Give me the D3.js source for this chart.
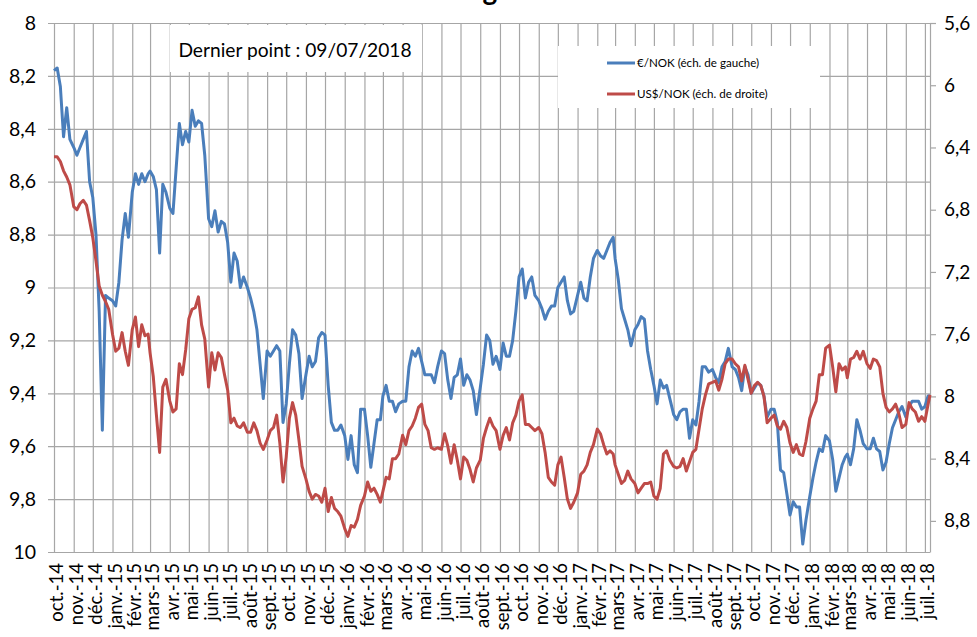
<!DOCTYPE html>
<html>
<head>
<meta charset="utf-8">
<script src="https://cdnjs.cloudflare.com/ajax/libs/d3/7.8.5/d3.min.js"></script>
<style>
  body { margin: 0; background: #fff; }
  text { font-family: Lato, "Liberation Sans", sans-serif; fill: #000; }
</style>
</head>
<body>
<div id="chart"></div>
<script>
// Month labels on the x axis (one gridline per month)
const monthLabels = ["oct.-14", "nov.-14", "déc.-14",
  "janv.-15", "févr.-15", "mars-15", "avr.-15", "mai-15", "juin-15", "juil.-15", "août-15", "sept.-15", "oct.-15", "nov.-15", "déc.-15",
  "janv.-16", "févr.-16", "mars-16", "avr.-16", "mai-16", "juin-16", "juil.-16", "août-16", "sept.-16", "oct.-16", "nov.-16", "déc.-16",
  "janv.-17", "févr.-17", "mars-17", "avr.-17", "mai-17", "juin-17", "juil.-17", "août-17", "sept.-17", "oct.-17", "nov.-17", "déc.-17",
  "janv.-18", "févr.-18", "mars-18", "avr.-18", "mai-18", "juin-18", "juil.-18"];

// days of the month where values were read (last month stops at 09/07/2018)
const sampleDays = [1, 6, 11, 16, 21, 26];
const lastMonthDays = [1, 6, 9];

// €/NOK, left axis (one row per month)
const eurNok = [
  [8.18, 8.17, 8.24, 8.43, 8.32, 8.44],
  [8.47, 8.50, 8.47, 8.44, 8.41, 8.60],
  [8.66, 8.80, 9.09, 9.54, 9.03, 9.04],
  [9.05, 9.07, 8.98, 8.82, 8.72, 8.81],
  [8.64, 8.57, 8.61, 8.57, 8.60, 8.57],
  [8.56, 8.58, 8.63, 8.87, 8.61, 8.64],
  [8.70, 8.72, 8.55, 8.38, 8.46, 8.41],
  [8.45, 8.33, 8.39, 8.37, 8.38, 8.50],
  [8.74, 8.77, 8.71, 8.79, 8.75, 8.76],
  [8.83, 8.98, 8.87, 8.90, 9.00, 8.96],
  [9.00, 9.04, 9.09, 9.16, 9.29, 9.42],
  [9.24, 9.26, 9.24, 9.22, 9.24, 9.51],
  [9.44, 9.29, 9.16, 9.18, 9.25, 9.42],
  [9.33, 9.26, 9.30, 9.28, 9.19, 9.17],
  [9.18, 9.37, 9.51, 9.54, 9.54, 9.52],
  [9.56, 9.65, 9.56, 9.67, 9.70, 9.46],
  [9.46, 9.56, 9.68, 9.59, 9.50, 9.50],
  [9.41, 9.37, 9.43, 9.43, 9.47, 9.44],
  [9.43, 9.43, 9.30, 9.24, 9.26, 9.23],
  [9.28, 9.33, 9.33, 9.33, 9.36, 9.30],
  [9.24, 9.25, 9.35, 9.42, 9.34, 9.33],
  [9.27, 9.37, 9.33, 9.35, 9.39, 9.48],
  [9.38, 9.29, 9.18, 9.20, 9.29, 9.26],
  [9.31, 9.21, 9.26, 9.26, 9.20, 9.09],
  [8.96, 8.93, 9.04, 8.98, 8.96, 9.03],
  [9.05, 9.08, 9.12, 9.09, 9.07, 9.07],
  [9.00, 8.98, 8.96, 9.05, 9.10, 9.09],
  [9.03, 8.98, 9.04, 9.05, 8.96, 8.89],
  [8.86, 8.88, 8.89, 8.86, 8.83, 8.81],
  [8.89, 8.97, 9.08, 9.12, 9.16, 9.22],
  [9.16, 9.14, 9.11, 9.12, 9.24, 9.31],
  [9.37, 9.44, 9.35, 9.38, 9.37, 9.42],
  [9.48, 9.50, 9.47, 9.46, 9.46, 9.57],
  [9.50, 9.52, 9.43, 9.30, 9.30, 9.32],
  [9.31, 9.34, 9.36, 9.30, 9.28, 9.23],
  [9.30, 9.31, 9.34, 9.39, 9.30, 9.33],
  [9.40, 9.38, 9.36, 9.37, 9.41, 9.49],
  [9.46, 9.46, 9.51, 9.69, 9.70, 9.78],
  [9.86, 9.81, 9.83, 9.83, 9.97, 9.88],
  [9.79, 9.72, 9.66, 9.61, 9.62, 9.56],
  [9.58, 9.65, 9.77, 9.72, 9.67, 9.64],
  [9.63, 9.67, 9.61, 9.50, 9.54, 9.59],
  [9.61, 9.61, 9.57, 9.61, 9.62, 9.69],
  [9.66, 9.59, 9.53, 9.50, 9.47, 9.45],
  [9.49, 9.45, 9.43, 9.43, 9.43, 9.46],
  [9.45, 9.41, 9.41]
];

// US$/NOK, right axis
const usdNok = [
  [6.46, 6.46, 6.49, 6.55, 6.59, 6.64],
  [6.78, 6.80, 6.76, 6.74, 6.77, 6.87],
  [6.98, 7.13, 7.29, 7.35, 7.39, 7.44],
  [7.60, 7.71, 7.69, 7.59, 7.71, 7.80],
  [7.57, 7.49, 7.68, 7.54, 7.61, 7.60],
  [7.72, 7.87, 8.12, 8.36, 7.94, 7.89],
  [8.03, 8.10, 8.08, 7.79, 7.86, 7.70],
  [7.50, 7.44, 7.43, 7.36, 7.54, 7.63],
  [7.94, 7.72, 7.83, 7.72, 7.75, 7.86],
  [7.96, 8.17, 8.14, 8.19, 8.20, 8.17],
  [8.23, 8.23, 8.17, 8.22, 8.30, 8.34],
  [8.28, 8.22, 8.20, 8.12, 8.30, 8.55],
  [8.39, 8.14, 8.04, 8.12, 8.28, 8.45],
  [8.53, 8.61, 8.66, 8.63, 8.64, 8.68],
  [8.59, 8.74, 8.65, 8.72, 8.74, 8.77],
  [8.85, 8.90, 8.83, 8.84, 8.79, 8.70],
  [8.64, 8.55, 8.61, 8.59, 8.63, 8.68],
  [8.61, 8.52, 8.53, 8.40, 8.40, 8.37],
  [8.25, 8.31, 8.22, 8.19, 8.14, 8.07],
  [8.05, 8.18, 8.22, 8.33, 8.34, 8.33],
  [8.34, 8.24, 8.32, 8.43, 8.31, 8.41],
  [8.53, 8.39, 8.41, 8.47, 8.55, 8.46],
  [8.41, 8.27, 8.20, 8.14, 8.19, 8.22],
  [8.34, 8.25, 8.20, 8.28, 8.17, 8.12],
  [8.03, 7.99, 8.18, 8.18, 8.20, 8.22],
  [8.20, 8.24, 8.36, 8.52, 8.55, 8.57],
  [8.44, 8.39, 8.52, 8.66, 8.72, 8.68],
  [8.62, 8.50, 8.48, 8.44, 8.36, 8.31],
  [8.21, 8.24, 8.31, 8.37, 8.35, 8.37],
  [8.44, 8.50, 8.56, 8.54, 8.48, 8.53],
  [8.56, 8.62, 8.59, 8.56, 8.56, 8.55],
  [8.64, 8.66, 8.59, 8.37, 8.35, 8.41],
  [8.45, 8.46, 8.45, 8.40, 8.48, 8.42],
  [8.36, 8.34, 8.21, 8.08, 7.99, 7.92],
  [7.91, 7.90, 7.96, 7.89, 7.79, 7.76],
  [7.76, 7.79, 7.81, 7.90, 7.80, 7.89],
  [7.98, 7.93, 7.91, 7.93, 8.00, 8.17],
  [8.14, 8.12, 8.19, 8.21, 8.16, 8.20],
  [8.30, 8.36, 8.31, 8.37, 8.38, 8.29],
  [8.14, 8.08, 8.03, 7.86, 7.86, 7.69],
  [7.67, 7.81, 7.97, 7.79, 7.83, 7.81],
  [7.88, 7.76, 7.75, 7.71, 7.76, 7.71],
  [7.79, 7.82, 7.76, 7.77, 7.81, 7.98],
  [8.07, 8.10, 8.08, 8.05, 8.11, 8.20],
  [8.18, 8.04, 8.08, 8.10, 8.16, 8.13],
  [8.16, 8.05, 7.99]
];

const leftTicks = [8, 8.2, 8.4, 8.6, 8.8, 9, 9.2, 9.4, 9.6, 9.8, 10];
const rightTicks = [5.6, 6, 6.4, 6.8, 7.2, 7.6, 8, 8.4, 8.8];

const titleText = "Couronne norvégienne";
const noteText = "Dernier point : 09/07/2018";
const seriesNames = ["€/NOK (éch. de gauche)", "US$/NOK (éch. de droite)"];

// dimensions
const width = 977;
const height = 637;
const plot = { left: 54, right: 930, top: 23, bottom: 552 };
const blue = "#4A7EBB";
const red = "#BE4B48";
const gridColor = "#A6A6A6";

const svg = d3.select("#chart")
  .append("svg")
  .attr("width", width)
  .attr("height", height)
  .style("background", "#fff");

const frFormat = d3.formatLocale({ decimal: ",", thousands: " ", grouping: [3], currency: ["", " €"] }).format(".2~f");

// build date/value points
function buildSeries(rows) {
  const pts = [];
  rows.forEach((vals, i) => {
    const days = i === monthLabels.length - 1 ? lastMonthDays : sampleDays;
    vals.forEach((v, j) => pts.push({ date: new Date(2014, 9 + i, days[j]), value: v }));
  });
  return pts;
}
const eurData = buildSeries(eurNok);
const usdData = buildSeries(usdNok);
const monthDates = monthLabels.map((_, i) => new Date(2014, 9 + i, 1));

// scales
const x = d3.scaleTime()
  .domain([new Date(2014, 9, 1), new Date(2018, 6, 9)])
  .range([plot.left, plot.right]);
const yLeft = d3.scaleLinear().domain([8, 10]).range([plot.top, plot.bottom]);
const yRight = d3.scaleLinear().domain([5.6, 9.0]).range([plot.top, plot.bottom]);

// vertical gridlines + month labels
const xAxis = svg.append("g")
  .attr("transform", `translate(0, ${plot.bottom})`)
  .call(d3.axisBottom(x)
    .tickValues(monthDates)
    .tickSize(-(plot.bottom - plot.top))
    .tickSizeOuter(0)
    .tickFormat((d, i) => monthLabels[i]));
xAxis.select(".domain").remove();
xAxis.selectAll(".tick line").attr("stroke", gridColor).attr("stroke-width", 1.2);
xAxis.selectAll(".tick text")
  .attr("font-size", 18.5)
  .attr("font-family", "Lato, sans-serif")
  .attr("fill", "#000")
  .attr("text-anchor", "end")
  .attr("x", 0)
  .attr("y", 0)
  .attr("dy", "0.36em")
  .attr("transform", "translate(2, 11) rotate(-90)");

// horizontal gridlines + left labels
const leftAxis = svg.append("g")
  .attr("transform", `translate(${plot.left}, 0)`)
  .call(d3.axisLeft(yLeft)
    .tickValues(leftTicks)
    .tickSize(-(plot.right - plot.left))
    .tickSizeOuter(0)
    .tickFormat(frFormat));
leftAxis.select(".domain").remove();
leftAxis.selectAll(".tick line")
  .attr("x1", -6)
  .attr("stroke", gridColor)
  .attr("stroke-width", 1.2);
leftAxis.selectAll(".tick text")
  .attr("x", -18)
  .attr("font-size", 19.5)
  .attr("font-family", "Lato, sans-serif")
  .attr("fill", "#000");

// right axis
const rightAxis = svg.append("g")
  .attr("transform", `translate(${plot.right}, 0)`)
  .call(d3.axisRight(yRight)
    .tickValues(rightTicks)
    .tickSize(6)
    .tickSizeOuter(0)
    .tickPadding(8)
    .tickFormat(frFormat));
rightAxis.select(".domain").attr("stroke", gridColor).attr("stroke-width", 1.2);
rightAxis.selectAll(".tick line").attr("stroke", gridColor).attr("stroke-width", 1.2);
rightAxis.selectAll(".tick text")
  .attr("font-size", 19)
  .attr("font-family", "Lato, sans-serif")
  .attr("fill", "#000");

// "Dernier point" box
svg.append("rect")
  .attr("x", 170).attr("y", 25)
  .attr("width", 252).attr("height", 47)
  .attr("fill", "#fff");
svg.append("text")
  .attr("x", 295).attr("y", 50)
  .attr("dy", "0.35em")
  .attr("text-anchor", "middle")
  .attr("font-size", 19.2)
  .text(noteText);

// legend box
const legend = svg.append("g").attr("transform", "translate(558, 46)");
legend.append("rect")
  .attr("width", 262).attr("height", 62)
  .attr("fill", "#fff");
[blue, red].forEach((c, i) => {
  legend.append("line")
    .attr("x1", 49).attr("x2", 77)
    .attr("y1", 17 + i * 31).attr("y2", 17 + i * 31)
    .attr("stroke", c).attr("stroke-width", 3);
  legend.append("text")
    .attr("x", 79).attr("y", 17 + i * 31)
    .attr("dy", "0.35em")
    .attr("font-size", 11.6)
    .text(seriesNames[i]);
});

// series lines
const lineLeft = d3.line().x(d => x(d.date)).y(d => yLeft(d.value));
const lineRight = d3.line().x(d => x(d.date)).y(d => yRight(d.value));

svg.append("path")
  .datum(eurData)
  .attr("d", lineLeft)
  .attr("fill", "none")
  .attr("stroke", blue)
  .attr("stroke-width", 3)
  .attr("stroke-linejoin", "round");

svg.append("path")
  .datum(usdData)
  .attr("d", lineRight)
  .attr("fill", "none")
  .attr("stroke", red)
  .attr("stroke-width", 3)
  .attr("stroke-linejoin", "round");

// title, cut off at the top of the picture as in the original (only the "g" tail shows)
const title = svg.append("text")
  .attr("x", 0).attr("y", 0)
  .attr("font-size", 28)
  .attr("font-weight", "bold")
  .text(titleText);
const gi = titleText.indexOf("g");
const gPos = title.node().getStartPositionOfChar(gi).x + title.node().getExtentOfChar(gi).width / 2;
title.attr("x", 490 - gPos);
</script>
</body>
</html>
